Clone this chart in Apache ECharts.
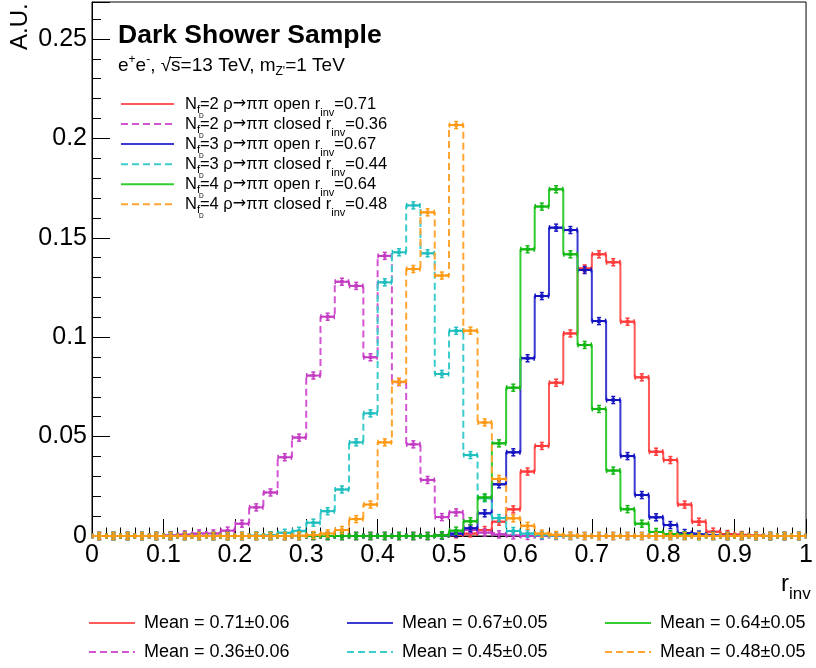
<!DOCTYPE html>
<html><head><meta charset="utf-8">
<script src="https://cdn.jsdelivr.net/npm/echarts@6/dist/echarts.min.js"></script>
<style>html,body{margin:0;padding:0;background:#fff}#c{width:816px;height:668px}</style>
</head><body><div id="c"></div>
<script>
// ---- data ----
const binEdges = [0,0.02,0.04,0.06,0.08,0.10,0.12,0.14,0.16,0.18,0.20,0.22,0.24,0.26,0.28,0.30,0.32,0.34,0.36,0.38,
  0.40,0.42,0.44,0.46,0.48,0.50,0.52,0.54,0.56,0.58,0.60,0.62,0.64,0.66,0.68,0.70,0.72,0.74,0.76,0.78,
  0.80,0.82,0.84,0.86,0.88,0.90,0.92,0.94,0.96,0.98,1.00];
const xTicks = [0,0.1,0.2,0.3,0.4,0.5,0.6,0.7,0.8,0.9,1];
const yTicks = [0,0.05,0.1,0.15,0.2,0.25];
const nf2Open = [0,0,0,0,0,0,0,0,0,0,0,0,0,0,0,0,0,0,0,0,0,0,0,0,
  0.0003,0.0008,0.0013,0.003,0.0072,0.0134,0.0324,0.0453,0.0771,0.1019,0.1346,0.1417,0.1377,0.1078,0.0798,0.0424,
  0.0382,0.0158,0.0072,0.0022,0.001,0.0005,0.0002,0,0,0];
const nf2Closed = [0,0,0,0,0,0.0004,0.0008,0.0013,0.0013,0.0027,0.0062,0.0144,0.0219,0.0396,0.0495,0.0807,0.1103,0.1279,0.1258,0.0899,
  0.1409,0.0774,0.0461,0.0282,0.0095,0.0119,0.003,0.0017,0.0008,0.0003,
  0,0,0,0,0,0,0,0,0,0,0,0,0,0,0,0,0,0,0,0];
const nf3Open = [0,0,0,0,0,0,0,0,0,0,0,0,0,0,0,0,0,0,0,0,0,0,0,0,
  0.0003,0.0013,0.0039,0.0114,0.026,0.0421,0.0894,0.1207,0.1551,0.1539,0.1338,0.1081,0.0684,0.0402,0.0206,0.0094,
  0.0055,0.0015,0.0007,0.0002,0,0,0,0,0,0];
const nf3Closed = [0,0,0,0,0,0,0,0,0,0,0,0.0002,0.0004,0.0016,0.0026,0.0067,0.0125,0.0234,0.0471,0.0617,
  0.1276,0.1427,0.1663,0.1422,0.0815,0.1032,0.0407,0.019,0.009,0.0025,0.0012,0.0004,0.0002,
  0,0,0,0,0,0,0,0,0,0,0,0,0,0,0,0,0];
const nf4Open = [0,0,0,0,0,0,0,0,0,0,0,0,0,0,0,0,0,0,0,0,0,0,0,0,
  0.0004,0.0027,0.0074,0.0194,0.0466,0.0746,0.1442,0.1657,0.1744,0.1417,0.0961,0.0639,0.0329,0.0135,0.0062,0.002,
  0.0009,0.0003,0,0,0,0,0,0,0,0];
const nf4Closed = [0,0,0,0,0,0,0,0,0,0,0,0,0,0,0.0002,0.0005,0.0013,0.003,0.0085,0.0158,
  0.0471,0.0776,0.1343,0.1628,0.131,0.2067,0.1033,0.0571,0.0287,0.0089,0.0051,0.0012,0.0005,0.0002,
  0,0,0,0,0,0,0,0,0,0,0,0,0,0,0,0];
const legendNf = ['2','2','3','3','4','4'];
const legendKind = ['open','closed','open','closed','open','closed'];
const legendRinv = ['0.71','0.36','0.67','0.44','0.64','0.48'];
const meanLabels = ['Mean = 0.71\u00b10.06','Mean = 0.36\u00b10.06','Mean = 0.67\u00b10.05','Mean = 0.45\u00b10.05','Mean = 0.64\u00b10.05','Mean = 0.48\u00b10.05'];
const seriesValues = [nf2Open, nf2Closed, nf3Open, nf3Closed, nf4Open, nf4Closed];

// ---- styles ----
const FONT = '"Liberation Sans", Arial, Helvetica, sans-serif';
const SYMFONT = '"DejaVu Sans", "Liberation Sans", sans-serif';
const lineColors = ['#ff5a5a','#d455d4','#3b3bd4','#3ccccc','#33cc33','#ffa533'];
const markColors = ['#ff3b3b','#c43cc4','#1414c0','#1fbfbf','#14b814','#ff9a14'];
const dashed = [false,true,false,true,false,true];
const DASH = [7,4];
const yMax = 0.2686;

const chart = echarts.init(document.getElementById('c'), null, {renderer:'canvas'});

const series = [];
seriesValues.forEach((vals, k) => {
  series.push({
    type:'line', step:'end', showSymbol:false, silent:true, z: 2 + k,
    data: binEdges.map((e, i) => [e, vals[Math.min(i, vals.length - 1)]]),
    lineStyle:{color: lineColors[k], width: 2, type: dashed[k] ? DASH : 'solid'}
  });
  series.push({
    type:'custom', silent:true, z: 3 + k,
    data: vals.map((v, i) => [binEdges[i], binEdges[i + 1], v]),
    renderItem(params, api) {
      const lo = api.value(0), hi = api.value(1), v = api.value(2);
      const pl = api.coord([lo, v]), pr = api.coord([hi, v]), pc = api.coord([(lo + hi) / 2, v]);
      const c = markColors[k];
      const st = {stroke: c, lineWidth: 1.5};
      return {type:'group', children:[
        {type:'line', shape:{x1:pl[0]+0.5, y1:pc[1]-2.5, x2:pl[0]+0.5, y2:pc[1]+2.5}, style:st},
        {type:'line', shape:{x1:pr[0]-0.5, y1:pc[1]-2.5, x2:pr[0]-0.5, y2:pc[1]+2.5}, style:st},
        {type:'line', shape:{x1:pc[0], y1:pc[1]-3.5, x2:pc[0], y2:pc[1]+3.5}, style:st},
        {type:'line', shape:{x1:pc[0]-2, y1:pc[1]-3.5, x2:pc[0]+2, y2:pc[1]-3.5}, style:st},
        {type:'line', shape:{x1:pc[0]-2, y1:pc[1]+3.5, x2:pc[0]+2, y2:pc[1]+3.5}, style:st},
        {type:'line', shape:{x1:pl[0], y1:pc[1], x2:pr[0], y2:pc[1]}, style:{stroke:c, lineWidth:2}},
        {type:'rect', shape:{x:pc[0]-1.8, y:pc[1]-1.8, width:3.6, height:3.6}, style:{fill:c}}
      ]};
    }
  });
});

// ---- text helpers ----
const mctx = document.createElement('canvas').getContext('2d');
function fontStr(g) { return (g.w || 'normal') + ' ' + g.s + 'px ' + (g.f || FONT); }
function tw(g) { mctx.font = fontStr(g); return mctx.measureText(g.t).width; }
function richLine(x, y, segs) {
  const out = []; let cx = x;
  segs.forEach(g => {
    const px = cx + (g.dx || 0);
    out.push({type:'text', x:px, y:y + (g.dy || 0), silent:true,
      style:{text:g.t, font:fontStr(g), fill:'#000', align:'left', verticalAlign:'middle'}});
    const wdt = tw(g);
    if (g.over) out.push({type:'line', silent:true, shape:{x1:px - 2, y1:y - g.s * 0.42, x2:px + wdt + 1, y2:y - g.s * 0.42}, style:{stroke:'#000', lineWidth:1}});
    if (g.adv !== false) cx = px + wdt;
  });
  return out;
}

const graphics = [];
// title
graphics.push(...richLine(118, 36, [{t:'Dark Shower Sample', s:26.5, w:'bold'}]));
// subtitle
const S = 19;
graphics.push(...richLine(118, 65.5, [
  {t:'e', s:S}, {t:'+', s:12, dy:-6}, {t:'e', s:S}, {t:'-', s:12, dy:-6}, {t:', ', s:S},
  {t:'\u221a', s:S}, {t:'s', s:S, over:true}, {t:'=13 TeV, m', s:S}, {t:"Z'", s:12, dy:6}, {t:'=1 TeV', s:S}
]));
// upper legend
for (let k = 0; k < 6; k++) {
  const y = 104 + k * 20.05;
  graphics.push({type:'line', silent:true, shape:{x1:121, y1:y, x2:174, y2:y},
    style:{stroke:lineColors[k], lineWidth:2, lineDash: dashed[k] ? DASH : null}});
  graphics.push(...richLine(185, y, [
    {t:'N', s:16.5}, {t:'f', s:11, dy:6}, {t:'D', s:6.5, dy:12, dx:-1, adv:false},
    {t:'=' + legendNf[k] + ' \u03c1', s:16.5}, {t:'\u2192', s:16, f:SYMFONT},
    {t:'\u03c0\u03c0 ' + legendKind[k] + ' r', s:16.5},
    {t:'inv', s:11, dy:9}, {t:'=' + legendRinv[k], s:16.5}
  ]));
}
// bottom legend (3 columns, 2 rows)
const colX = [89, 347, 605];
const rowY = [623, 652];
for (let k = 0; k < 6; k++) {
  const col = Math.floor(k / 2), row = k % 2;
  const x = colX[col], y = rowY[row];
  graphics.push({type:'line', silent:true, shape:{x1:x, y1:y, x2:x + 46, y2:y},
    style:{stroke:lineColors[k], lineWidth:2, lineDash: dashed[k] ? DASH : null}});
  graphics.push(...richLine(x + 55, y, [{t:meanLabels[k], s:18}]));
}
// axis titles
graphics.push(...richLine(781, 584, [{t:'r', s:24}, {t:'inv', s:17, dy:10}]));
graphics.push({type:'text', x:20, y:50, rotation:Math.PI / 2, silent:true,
  style:{text:'A.U.', font:'24px ' + FONT, fill:'#000', align:'left', verticalAlign:'middle'}});

const option = {
  animation:false,
  backgroundColor:'#fff',
  grid:{left:92, right:5, top:2, bottom:132, show:true, borderColor:'#000', borderWidth:1},
  xAxis:{type:'value', min:xTicks[0], max:xTicks[xTicks.length - 1], interval:0.1,
    axisLine:{show:true, onZero:false, lineStyle:{color:'#000', width:1}},
    axisTick:{show:true, inside:true, length:17, lineStyle:{color:'#000', width:1}},
    minorTick:{show:true, splitNumber:5, length:8.5, lineStyle:{color:'#000', width:1}},
    splitLine:{show:false},
    axisLabel:{color:'#000', fontSize:25, fontFamily:FONT, margin:7,
      formatter: v => { const t = xTicks.find(a => Math.abs(a - v) < 1e-6); return t === undefined ? '' : String(t); }}},
  yAxis:[
    {type:'value', min:0, max:yMax, interval:0.05,
      axisLine:{show:true, lineStyle:{color:'#000', width:1}},
      axisTick:{show:true, inside:true, length:18, lineStyle:{color:'#000', width:1}},
      splitLine:{show:false},
      axisLabel:{color:'#000', fontSize:25, fontFamily:FONT, margin:5,
        formatter: v => { const t = yTicks.find(a => Math.abs(a - v) < 1e-6); return t === undefined ? '' : String(t); }}},
    {type:'value', min:0, max:yMax, interval:0.01, position:'left',
      axisLine:{show:false}, axisTick:{show:true, inside:true, length:9, lineStyle:{color:'#000', width:1}},
      axisLabel:{show:false}, splitLine:{show:false}}
  ],
  series: series,
  graphic: graphics
};
chart.setOption(option);
</script>
</body></html>
